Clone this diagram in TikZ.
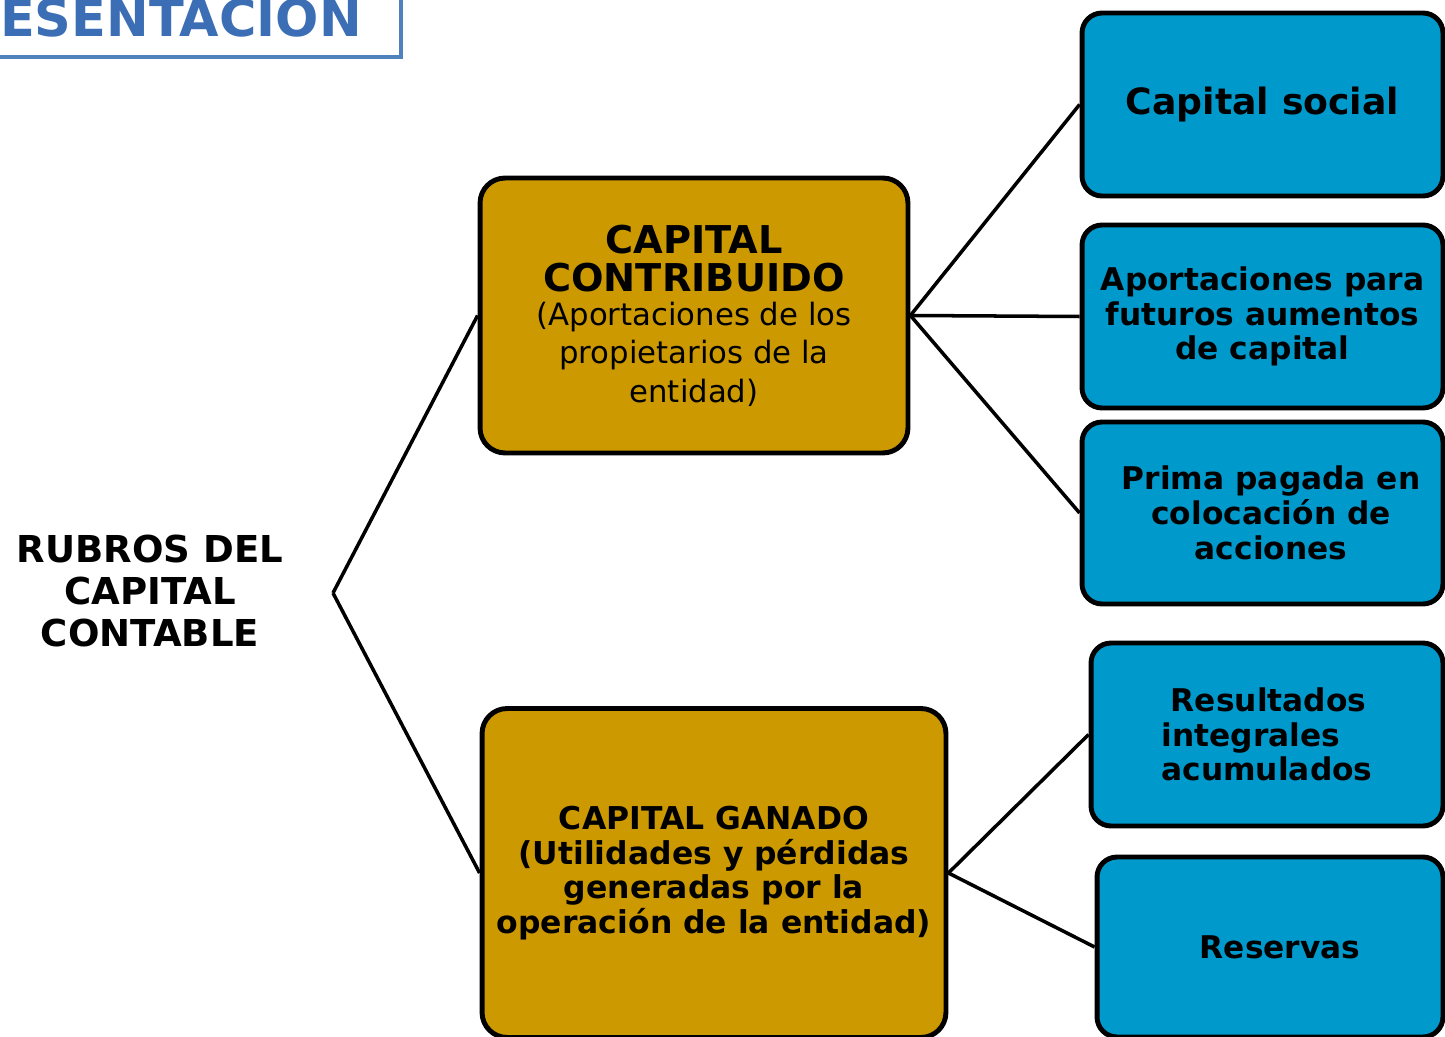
\documentclass[tikz,border=0pt]{standalone}
\usepackage{fontspec}
\setmainfont{DejaVu Sans}
\usepackage{xcolor}
\usetikzlibrary{positioning,calc}

\definecolor{goldfill}{HTML}{CC9900}
\definecolor{bluefill}{HTML}{0099CC}
\definecolor{titleblue}{HTML}{3B6EB4}
\definecolor{titleframe}{HTML}{4F81BD}

\newcommand{\headfont}{\bfseries\fontsize{21.8}{22}\selectfont}
\newcommand{\notefont}{\mdseries\fontsize{17.5}{20.4}\selectfont}

\begin{document}
\begin{tikzpicture}[
    x=0.02cm, y=-0.02cm,
    mainbox/.style={rectangle, draw, line width=2.8pt, rounded corners=0.5cm, fill=goldfill, align=center, inner sep=0pt},
    subbox/.style={rectangle, draw, line width=2.8pt, rounded corners=0.4cm, fill=bluefill, align=center, inner sep=0pt, minimum height=3.66cm, font=\bfseries\fontsize{17.8}{19.8}\selectfont},
    link/.style={line width=2pt},
    rootlabel/.style={font=\bfseries\fontsize{21.1}{23.8}\selectfont, align=center}
]
    \useasboundingbox (0,0) rectangle (1445,1037);

    % Title (cut at the top left)
    \draw[titleframe, line width=2.8pt] (-20,-20) rectangle (401,57);
    \node[titleblue, font=\bfseries\fontsize{29}{30}\selectfont, anchor=base east, inner sep=0pt] (title) at (362,37) {ESENTACION};

    % Root (left)
    \node[rootlabel] (rubros) at (150,591) {RUBROS DEL\\CAPITAL\\CONTABLE};
    \coordinate (fork) at (333,593);

    % Main boxes (gold)
    \node[mainbox, minimum width=8.56cm, minimum height=5.5cm, font=\headfont] (contribuido) at (694,315.5) {CAPITAL\\CONTRIBUIDO\\[-3pt]\notefont (Aportaciones de los\\\notefont propietarios de la\\\notefont entidad)};
    \node[mainbox, minimum width=9.28cm, minimum height=6.58cm, font=\bfseries\fontsize{17.9}{19.8}\selectfont] (ganado) at (714,873) {CAPITAL GANADO\\(Utilidades y pérdidas\\generadas por la\\operación de la entidad)};

    % Sub boxes (blue)
    \node[subbox, minimum width=7.22cm, font=\bfseries\fontsize{20.6}{24}\selectfont] (social) at (1262.5,104.5) {Capital social};
    \node[subbox, minimum width=7.22cm] (aportaciones) at (1262.5,316.5) {Aportaciones para\\futuros aumentos\\de capital};
    \node[subbox, minimum width=7.22cm, minimum height=3.64cm] (prima) at (1262.5,513) {\hspace*{0.55em}Prima pagada en\\\hspace*{0.55em}colocación de\\\hspace*{0.55em}acciones};
    \node[subbox, minimum width=7.04cm, align=left] (resultados) at (1267,734.5) {\hspace*{0.3em}Resultados\\integrales\\acumulados};
    \node[subbox, minimum width=6.92cm, minimum height=3.6cm] (reservas) at (1270,947) {\hspace*{0.65em}Reservas};

    % Connectors
    \draw[link] (fork) -- (contribuido.west);
    \draw[link] (fork) -- (ganado.west);
    \draw[link] (contribuido.east) -- (social.west);
    \draw[link] (contribuido.east) -- (aportaciones.west);
    \draw[link] (contribuido.east) -- (prima.west);
    \draw[link] (ganado.east) -- (resultados.west);
    \draw[link] (ganado.east) -- (reservas.west);

\end{tikzpicture}
\end{document}
